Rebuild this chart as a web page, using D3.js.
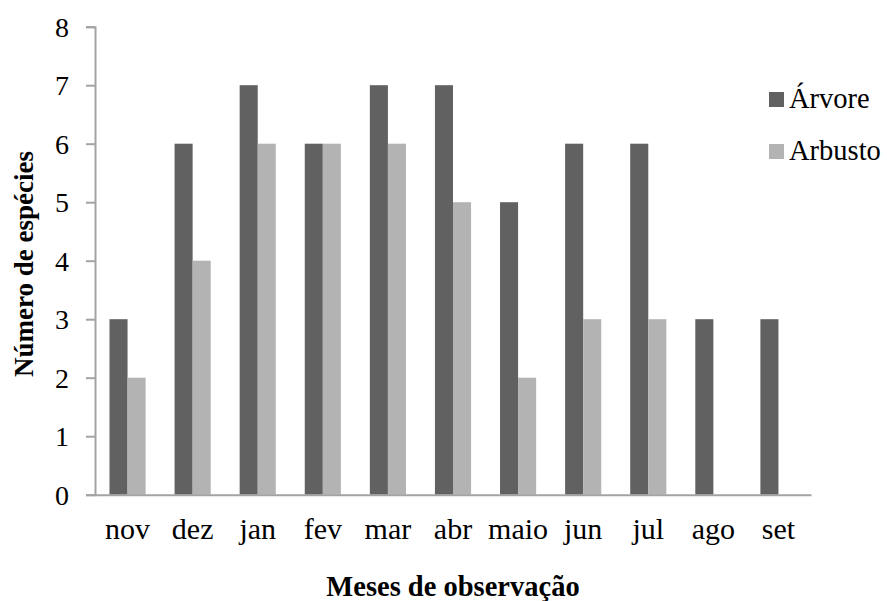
<!DOCTYPE html>
<html><head><meta charset="utf-8">
<script src="https://cdn.jsdelivr.net/npm/d3@7"></script>
<style>body{margin:0;background:#fff}svg{display:block}
svg text{font-family:"Liberation Serif","Times New Roman",Tinos,"DejaVu Serif",serif !important}</style>
</head><body><svg id="c" width="887" height="601"></svg>
<script>
const months = ["nov","dez","jan","fev","mar","abr","maio","jun","jul","ago","set"];
const arvore = [3,6,7,6,7,7,5,6,6,3,3];
const arbusto = [2,4,6,6,6,5,2,3,3,0,0];
const seriesNames = ["Árvore","Arbusto"];
const yTicks = [0,1,2,3,4,5,6,7,8];

const colors = ["#616161","#b3b3b3"];
const axisColor = "#a3a3a3";
const W = 887, H = 601;
const m = {l:95, r:76, t:26.7, b:106.3};

const svg = d3.select("#c");
const x = d3.scaleBand().domain(months).range([m.l, W-m.r]).paddingInner(0.445).paddingOuter(0.2225);
const xs = d3.scaleBand().domain(seriesNames).range([0, x.bandwidth()]);
const y = d3.scaleLinear().domain([0,8]).range([H-m.b, m.t]);

const data = months.map((mo,i)=>({mo, vals:[arvore[i], arbusto[i]]}));

// bars
const g = svg.append("g");
data.forEach(d=>{
  d.vals.forEach((v,j)=>{
    if(v<=0) return;
    g.append("rect")
      .attr("x", x(d.mo)+xs(seriesNames[j]))
      .attr("y", y(v))
      .attr("width", xs.bandwidth())
      .attr("height", y(0)-y(v))
      .attr("fill", colors[j]);
  });
});

// y axis
const ya = svg.append("g").attr("transform",`translate(${m.l},0)`)
  .call(d3.axisLeft(y).tickValues(yTicks).tickFormat(d3.format("d")).tickSize(9).tickPadding(17));
ya.attr("font-family",null);
ya.select(".domain").attr("stroke",axisColor).attr("stroke-width",2);
ya.selectAll(".tick line").attr("stroke",axisColor).attr("stroke-width",2);
ya.selectAll(".tick text").attr("font-size",28).attr("fill","#000").attr("dy","0.34em");

// x axis
const xa = svg.append("g").attr("transform",`translate(0,${y(0)})`)
  .call(d3.axisBottom(x).tickSize(0).tickSizeOuter(0));
xa.attr("font-family",null);
xa.select(".domain").attr("stroke",axisColor).attr("stroke-width",2);
xa.selectAll(".tick text").attr("font-size",30).attr("fill","#000")
  .attr("y",44).attr("dy",0);

// axis titles
svg.append("text").attr("x",(m.l+W-m.r)/2).attr("y",596)
  .attr("text-anchor","middle").attr("font-weight","bold").attr("font-size",28.5)
  .text("Meses de observação");
svg.append("text").attr("transform",`translate(33,${264}) rotate(-90)`)
  .attr("text-anchor","middle").attr("font-weight","bold").attr("font-size",27)
  .text("Número de espécies");

// legend
const lg = svg.append("g");
seriesNames.forEach((s,j)=>{
  const yy = 92 + j*52;
  lg.append("rect").attr("x",769).attr("y",yy).attr("width",15).attr("height",15).attr("fill",colors[j]);
  lg.append("text").attr("x",789).attr("y",yy+16).attr("font-size",28.5).attr("fill","#000").text(s);
});
</script></body></html>
